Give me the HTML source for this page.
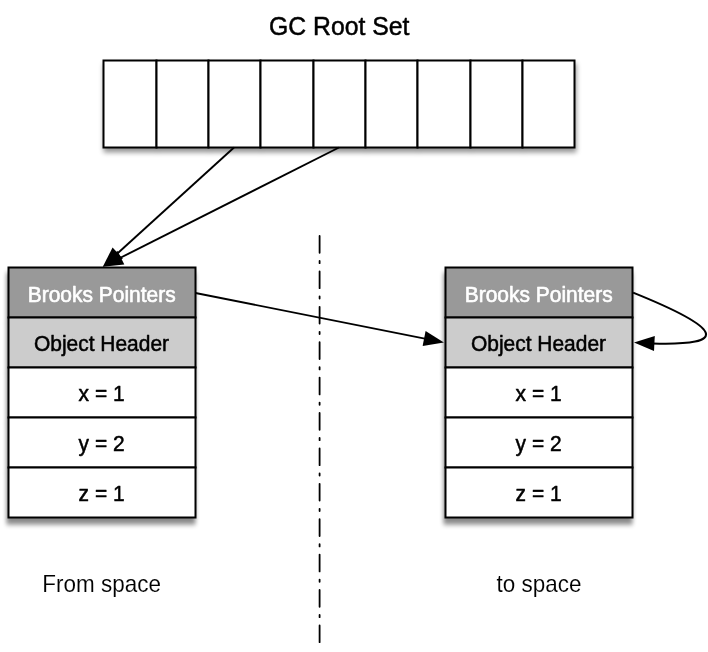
<!DOCTYPE html>
<html>
<head>
<meta charset="utf-8">
<title>GC Root Set</title>
<style>
html,body{margin:0;padding:0;background:#fff;}
body{width:708px;height:652px;overflow:hidden;}
svg{display:block;will-change:transform;}
text{font-family:"Liberation Sans",sans-serif;fill:#000;stroke:#000;stroke-width:0.5px;stroke-linejoin:round;}
text.w{fill:#fff;stroke:#fff;stroke-width:0.6px;}
text.l{stroke:#fff;stroke-width:0.1px;}
</style>
</head>
<body>
<svg width="708" height="652" viewBox="0 0 708 652">
<defs>
<filter id="sh" x="-10%" y="-10%" width="125%" height="125%">
<feGaussianBlur in="SourceAlpha" stdDeviation="2.3 2.5"/>
<feOffset dx="-0.9" dy="5.5" result="o"/>
<feComponentTransfer><feFuncA type="linear" slope="0.47"/></feComponentTransfer>
<feMerge><feMergeNode/><feMergeNode in="SourceGraphic"/></feMerge>
</filter>
<filter id="sh2" x="-10%" y="-10%" width="125%" height="130%">
<feGaussianBlur in="SourceAlpha" stdDeviation="2.5"/>
<feOffset dx="1.1" dy="4.2" result="o"/>
<feComponentTransfer><feFuncA type="linear" slope="0.42"/></feComponentTransfer>
<feMerge><feMergeNode/><feMergeNode in="SourceGraphic"/></feMerge>
</filter>
</defs>
<rect width="708" height="652" fill="#fff"/>

<text transform="translate(339.20 35.00) scale(0.9530 1)" font-size="26.00" text-anchor="middle">GC Root Set</text>

<!-- root set -->
<g filter="url(#sh2)" stroke="#000" stroke-width="2" fill="#fff">
<rect x="103.5" y="60.5" width="53" height="87"/>
<rect x="156.5" y="60.5" width="52" height="87"/>
<rect x="208.5" y="60.5" width="52" height="87"/>
<rect x="260.5" y="60.5" width="53" height="87"/>
<rect x="313.5" y="60.5" width="52" height="87"/>
<rect x="365.5" y="60.5" width="52" height="87"/>
<rect x="417.5" y="60.5" width="53" height="87"/>
<rect x="470.5" y="60.5" width="52" height="87"/>
<rect x="522.5" y="60.5" width="52" height="87"/>
</g>

<!-- left object -->
<g filter="url(#sh)" stroke="#000" stroke-width="2">
<rect x="8.5" y="267.50" width="187" height="50" fill="#999"/>
<rect x="8.5" y="317.50" width="187" height="50" fill="#ccc"/>
<rect x="8.5" y="367.50" width="187" height="50" fill="#fff"/>
<rect x="8.5" y="417.50" width="187" height="50" fill="#fff"/>
<rect x="8.5" y="467.50" width="187" height="50" fill="#fff"/>
</g>
<text transform="translate(101.70 301.60) scale(0.9750 1)" font-size="21.50" text-anchor="middle" class="w">Brooks Pointers</text>
<text transform="translate(101.50 351.30) scale(0.9750 1)" font-size="21.50" text-anchor="middle">Object Header</text>
<text transform="translate(101.60 401.00) scale(0.9750 1)" font-size="21.50" text-anchor="middle">x = 1</text>
<text transform="translate(101.60 451.00) scale(0.9750 1)" font-size="21.50" text-anchor="middle">y = 2</text>
<text transform="translate(101.60 501.00) scale(0.9750 1)" font-size="21.50" text-anchor="middle">z = 1</text>

<!-- right object -->
<g filter="url(#sh)" stroke="#000" stroke-width="2">
<rect x="445.5" y="267.50" width="187" height="50" fill="#999"/>
<rect x="445.5" y="317.50" width="187" height="50" fill="#ccc"/>
<rect x="445.5" y="367.50" width="187" height="50" fill="#fff"/>
<rect x="445.5" y="417.50" width="187" height="50" fill="#fff"/>
<rect x="445.5" y="467.50" width="187" height="50" fill="#fff"/>
</g>
<text transform="translate(538.70 301.60) scale(0.9750 1)" font-size="21.50" text-anchor="middle" class="w">Brooks Pointers</text>
<text transform="translate(538.50 351.30) scale(0.9750 1)" font-size="21.50" text-anchor="middle">Object Header</text>
<text transform="translate(538.60 401.00) scale(0.9750 1)" font-size="21.50" text-anchor="middle">x = 1</text>
<text transform="translate(538.60 451.00) scale(0.9750 1)" font-size="21.50" text-anchor="middle">y = 2</text>
<text transform="translate(538.60 501.00) scale(0.9750 1)" font-size="21.50" text-anchor="middle">z = 1</text>

<text transform="translate(101.70 591.90) scale(0.9370 1)" font-size="24.00" text-anchor="middle" class="l">From space</text>
<text transform="translate(539.00 591.90) scale(0.9350 1)" font-size="24.00" text-anchor="middle" class="l">to space</text>

<!-- divider -->
<line x1="319.6" y1="236" x2="319.6" y2="642.2" stroke="#000" stroke-width="1.8" stroke-linecap="round" stroke-dasharray="16.8 8.2 2.2 8.2"/>

<!-- arrows -->
<g stroke="#000" stroke-width="1.9" fill="none">
<line x1="234" y1="147.5" x2="116.3" y2="254.5"/>
<line x1="339" y1="147.5" x2="119.0" y2="258.5"/>
<line x1="195.5" y1="293" x2="426.0" y2="338.9"/>
<path d="M633.1 292.6 C 722 328.4, 731 345.9, 652.5 343.5" stroke-width="2.1"/>
</g>
<g fill="#000">
<polygon points="102.8,266.7 122.9,258.8 112.6,247.4"/>
<polygon points="102.8,266.7 124.3,264.5 117.4,250.7"/>
<polygon points="443.9,342.4 425.6,330.9 422.6,346.0"/>
<polygon points="634.0,342.4 654.0,351.0 654.8,336.0"/>
</g>
</svg>
</body>
</html>
